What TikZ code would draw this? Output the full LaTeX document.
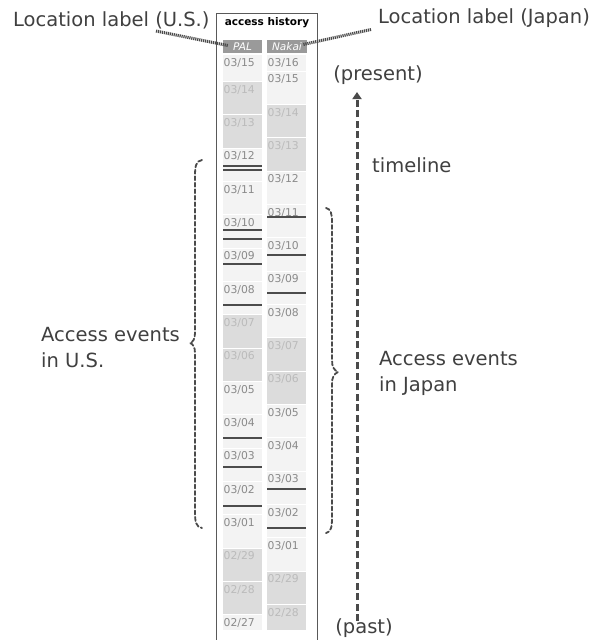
\documentclass[tikz,border=0pt]{standalone}
\usepackage{fontspec}
\setmainfont{DejaVu Sans}
\usetikzlibrary{arrows.meta}
\definecolor{txt}{HTML}{404040}
\definecolor{lnc}{HTML}{4A4A4A}
\definecolor{c0}{HTML}{F3F3F3}
\definecolor{c1}{HTML}{DCDCDC}
\definecolor{t0}{HTML}{8A8A8A}
\definecolor{t1}{HTML}{BBBBBB}
\definecolor{hdrfill}{HTML}{9A9A9A}
\definecolor{evc}{HTML}{4C4C4C}
\begin{document}
\begin{tikzpicture}[x=1pt,y=-1pt,
  bigtxt/.style={font=\fontsize{19.5}{26}\selectfont, text=txt, inner sep=0pt},
  dlab/.style={font=\fontsize{10.8}{12}\selectfont, inner sep=0pt, anchor=west},
  hdr/.style={fill=hdrfill, text=white, font=\itshape\fontsize{10.5}{12}\selectfont, inner sep=0pt, minimum height=13pt},
  evline/.style={draw=evc, line width=2pt},
  dotline/.style={draw=lnc, line width=3pt, dash pattern=on 1.2pt off 0.8pt},
  tlarrow/.style={draw=lnc, line width=3pt, dash pattern=on 7pt off 3.5pt, -{Triangle[width=9pt,length=7pt]}},
  bracestyle/.style={draw=lnc, line width=1.8pt, dash pattern=on 4pt off 2.5pt, line cap=round}]
\useasboundingbox (0,0) rectangle (603,640);
\fill[white] (0,0) rectangle (603,640);
% panel
\draw[draw=gray!70!black, line width=1.2pt] (216.5,645) -- (216.5,13.5) -- (317.5,13.5) -- (317.5,645);
\node[font=\bfseries\fontsize{10.5}{12}\selectfont, inner sep=0pt] (title) at (267,22.5) {access history};
\node[hdr, minimum width=39pt] (pal) at (242.5,46.5) {PAL};
\node[hdr, minimum width=40pt] (nakai) at (287,46.5) {Nakai};
% left column
\fill[c0] (223,55) rectangle (262,81);
\node[dlab, text=t0] (L15) at (223.5,62.5) {03/15};
\foreach \m/\dd/\w [count=\k from 0] in {03/14/1,03/13/1,03/12/0,03/11/0,03/10/0,03/09/0,03/08/0,03/07/1,03/06/1,03/05/0,03/04/0,03/03/0,03/02/0,03/01/0,02/29/1,02/28/1,02/27/0}{
  \pgfmathsetmacro{\tp}{82+33.333*\k}
  \pgfmathsetmacro{\bt}{min(\tp+32.3,630)}
  \fill[c\w] (223,\tp) rectangle (262,\bt);
  \node[dlab, text=t\w] (L\k) at (223.5,\tp+7.5) {\m/\dd};
}
% right column
\fill[c0] (267,55) rectangle (306,70.7);
\node[dlab, text=t0] (R16) at (267.5,62.5) {03/16};
\foreach \m/\dd/\w [count=\k from 0] in {03/15/0,03/14/1,03/13/1,03/12/0,03/11/0,03/10/0,03/09/0,03/08/0,03/07/1,03/06/1,03/05/0,03/04/0,03/03/0,03/02/0,03/01/0,02/29/1,02/28/1}{
  \pgfmathsetmacro{\tp}{71.7+33.333*\k}
  \pgfmathsetmacro{\bt}{min(\tp+32.3,630)}
  \fill[c\w] (267,\tp) rectangle (306,\bt);
  \node[dlab, text=t\w] (R\k) at (267.5,\tp+7.5) {\m/\dd};
}
% access events
\foreach \y in {166,169.5,230,239.3,264.3,305.3,438.3,466.7,506}{
  \draw[evline] (223,\y) -- (262,\y);
}
\foreach \y in {216.7,255.3,293.3,489,528.3}{
  \draw[evline] (267,\y) -- (306,\y);
}
% location labels
\node[bigtxt, anchor=west] (locus) at (13,20) {Location label (U.S.)};
\node[bigtxt, anchor=west] (locjp) at (378,18) {Location label (Japan)};
\coordinate (lus) at (156,31);
\coordinate (ljp) at (371,29.5);
\draw[dotline] (lus) -- ([xshift=5pt,yshift=1pt]pal.west);
\draw[dotline] (ljp) -- ([xshift=-4pt,yshift=2pt]nakai.east);
% timeline
\node[bigtxt] (present) at (378,75) {(present)};
\node[bigtxt] (past) at (364,628) {(past)};
\node[bigtxt, anchor=west] (tl) at (372,165) {timeline};
\coordinate (tlbot) at (357,621);
\coordinate (tltop) at (357,92);
\draw[tlarrow] (tlbot) -- (tltop);
% braces
\draw[bracestyle] (202,160) .. controls (196,161) and (195,166) .. (195,176) -- (195,333) .. controls (195,339) and (193,342) .. (190,343) .. controls (193,344) and (195,347) .. (195,353) -- (195,512) .. controls (195,522) and (196,527) .. (202,528);
\draw[bracestyle] (326,208) .. controls (331,209) and (332,214) .. (332,222) -- (332,360) .. controls (332,367) and (334,370) .. (338,372) .. controls (334,374) and (332,377) .. (332,384) -- (332,518) .. controls (332,527) and (331,532) .. (326,533);
\node[bigtxt, anchor=north west, align=left] (usev) at (41,327) {Access events\\in U.S.};
\node[bigtxt, anchor=north west, align=left] (jpev) at (379,351) {Access events\\in Japan};
\end{tikzpicture}
\end{document}
